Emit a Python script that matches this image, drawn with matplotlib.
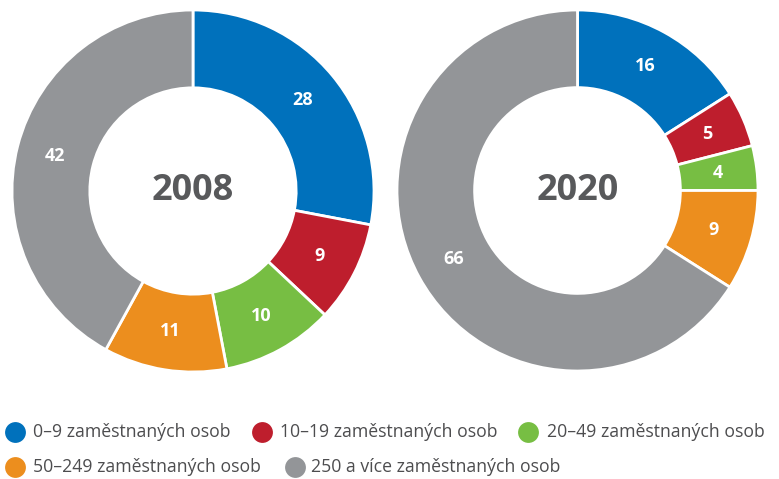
import matplotlib.pyplot as plt

plt.rcParams['font.family'] = ['Open Sans', 'DejaVu Sans']

categories = ['0–9 zaměstnaných osob', '10–19 zaměstnaných osob', '20–49 zaměstnaných osob',
              '50–249 zaměstnaných osob', '250 a více zaměstnaných osob']
years = ['2008', '2020']
values_2008 = [28, 9, 10, 11, 42]
values_2020 = [16, 5, 4, 9, 66]
colors = ['#0071bc', '#be1e2d', '#77be43', '#ec8e1e', '#939598']

W, H = 779, 479
fig = plt.figure(figsize=(W / 100, H / 100), dpi=100)


def donut(cx, cy, r, vals, year):
    # place axes by pixel centre/radius
    ax = fig.add_axes([(cx - r) / W, (H - cy - r) / H, 2 * r / W, 2 * r / H])
    wedges, texts = ax.pie(vals, colors=colors, startangle=90, counterclock=False,
                           radius=1, labels=[str(v) for v in vals], labeldistance=0.785,
                           wedgeprops=dict(width=0.43, edgecolor='white', linewidth=2))
    for t in texts:
        t.set_color('white')
        t.set_fontsize(13)
        t.set_fontweight('bold')
        t.set_ha('center')
        t.set_va('center')
    ax.text(0, 0, year, ha='center', va='center', fontsize=26, fontweight='bold', color='#58595b')
    ax.set_xlim(-1, 1)
    ax.set_ylim(-1, 1)
    ax.set_aspect('equal')


donut(193, 191, 181, values_2008, years[0])
donut(577.5, 190.5, 180.5, values_2020, years[1])

# legend drawn in pixel coordinates (flow layout, two rows)
lax = fig.add_axes([0, 0, 1, 1])
lax.set_xlim(0, W)
lax.set_ylim(H, 0)
lax.axis('off')
marker_pos = [(15, 432), (262, 432), (528, 432), (15, 467), (295, 467)]
text_x = [33, 280, 547, 33, 311]
for (x, y), tx, c, lab in zip(marker_pos, text_x, colors, categories):
    lax.plot(x, y, 'o', color=c, markersize=15, markeredgewidth=0)
    lax.text(tx, y, lab, ha='left', va='center', fontsize=12.7, color='#4d4d4f')

fig.savefig('out.png', dpi=100)
